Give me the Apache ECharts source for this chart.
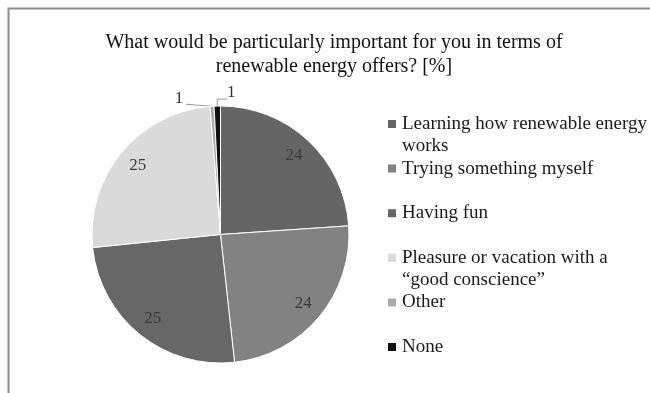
<!DOCTYPE html>
<html>
<head>
<meta charset="utf-8">
<script src="https://cdn.jsdelivr.net/npm/echarts@6/dist/echarts.min.js"></script>
<style>
html,body{margin:0;padding:0;background:#fff;}
#chart{width:650px;height:393px;}
</style>
</head>
<body>
<div id="chart"></div>
<script>
const titleText = 'What would be particularly important for you in terms of\nrenewable energy offers? [%]';
const categories = [
  'Learning how renewable energy\nworks',
  'Trying something myself',
  'Having fun',
  'Pleasure or vacation with a\n\u201cgood conscience\u201d',
  'Other',
  'None'
];
const values = [24.0, 24.4, 25.2, 25.4, 0.5, 0.8];
const colors = ['#656565', '#828282', '#676767', '#dadada', '#a8a8a8', '#111111'];
const smallSlices = [4, 5];

const FONT = 'Liberation Serif';
const chart = echarts.init(document.getElementById('chart'), null, {renderer: 'canvas'});

const center = [220.5, 234.5];
const R = 128.5;

const mainData = categories.map((name, i) => ({
  name: name,
  value: values[i],
  itemStyle: {color: colors[i]},
  label: {show: smallSlices.includes(i)},
  labelLine: {show: smallSlices.includes(i)}
}));

const overlayData = categories.map((name, i) => ({
  name: name,
  value: values[i],
  label: {show: !smallSlices.includes(i)}
}));

chart.setOption({
  backgroundColor: '#ffffff',
  animation: false,
  color: colors,
  title: {
    text: titleText,
    left: 329,
    textAlign: 'center',
    top: 26,
    textStyle: {fontFamily: FONT, fontSize: 20, fontWeight: 'normal', color: '#111', lineHeight: 24}
  },
  graphic: [{
    type: 'rect',
    shape: {x: 8.5, y: 8.5, width: 700, height: 500},
    style: {fill: 'none', stroke: '#8a8a8a', lineWidth: 2},
    silent: true
  }],
  legend: {
    orient: 'vertical',
    left: 381,
    top: 86,
    icon: 'rect',
    itemWidth: 10,
    itemHeight: 10,
    itemGap: -21.4,
    formatter: function (name) {
      const lines = name.split('\n');
      return '\u00a0\n' + lines[0] + '\n' + (lines[1] || '\u00a0');
    },
    textStyle: {fontFamily: FONT, fontSize: 19, color: '#1a1a1a', lineHeight: 22},
    data: categories
  },
  series: [{
    type: 'pie',
    center: center,
    radius: R,
    startAngle: 90,
    clockwise: true,
    avoidLabelOverlap: false,
    itemStyle: {borderColor: '#fff', borderWidth: 1},
    label: {
      position: 'outside',
      fontFamily: FONT, fontSize: 17, color: '#333',
      formatter: p => String(Math.round(p.value))
    },
    labelLine: {length: 6, length2: 10, lineStyle: {color: '#999', width: 1}},
    labelLayout: function (params) {
      const pts = params.labelLinePoints;
      if (!pts) return {};
      const p0 = pts[0];
      if (params.dataIndex === 4) {
        return {
          x: p0[0] - 33, y: p0[1] - 8, align: 'center', verticalAlign: 'middle',
          labelLinePoints: [p0, [p0[0] - 26, p0[1] - 2], [p0[0] - 26, p0[1] - 2]]
        };
      }
      if (params.dataIndex === 5) {
        return {
          x: p0[0] + 14, y: p0[1] - 14, align: 'center', verticalAlign: 'middle',
          labelLinePoints: [p0, [p0[0], p0[1] - 7], [p0[0] + 10, p0[1] - 7]]
        };
      }
      return {};
    },
    emphasis: {disabled: true},
    data: mainData
  }, {
    type: 'pie',
    center: center,
    radius: [81, R],
    startAngle: 90,
    clockwise: true,
    silent: true,
    itemStyle: {color: 'rgba(0,0,0,0)'},
    label: {
      position: 'inside',
      fontFamily: FONT, fontSize: 17, color: '#3a3a3a',
      formatter: p => String(Math.round(p.value))
    },
    labelLine: {show: false},
    emphasis: {disabled: true},
    data: overlayData
  }]
});
</script>
</body>
</html>
